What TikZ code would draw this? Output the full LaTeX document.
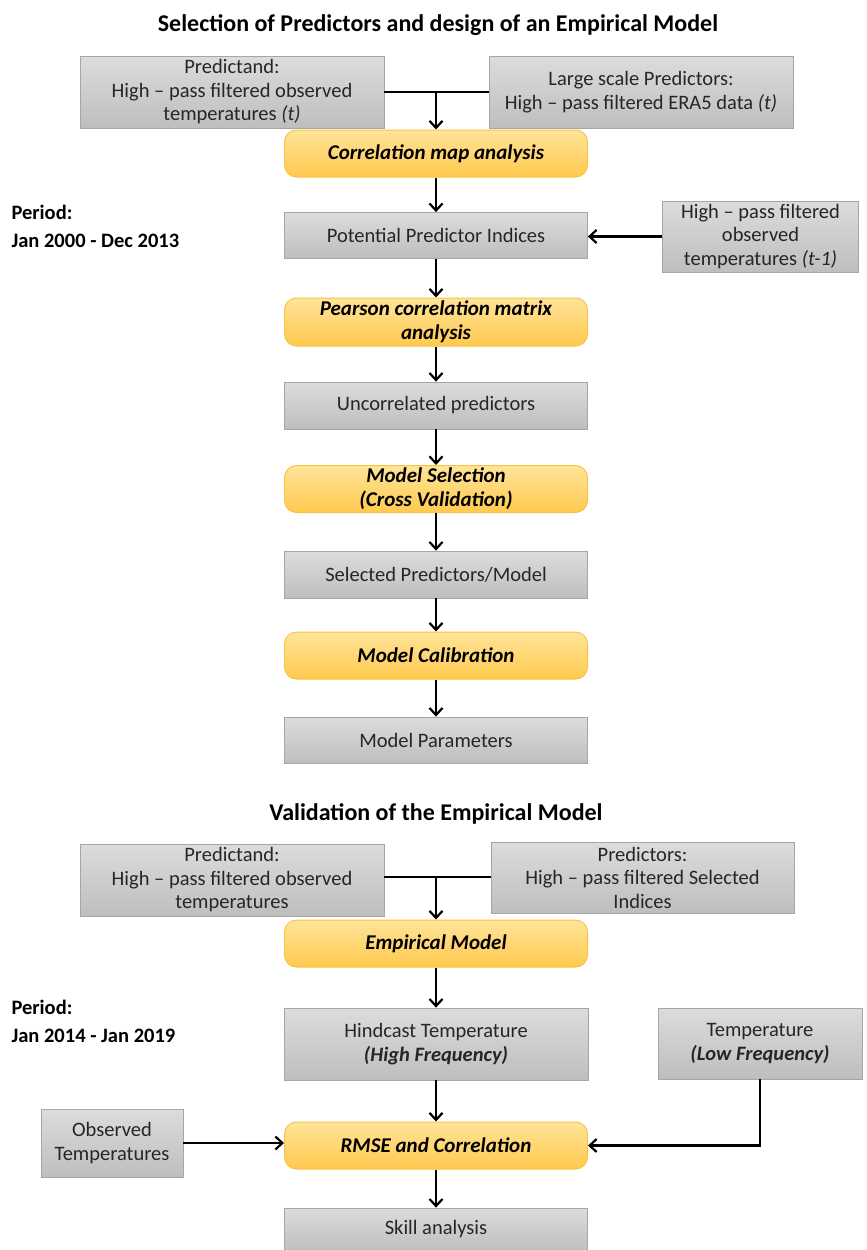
\documentclass[tikz,border=0pt]{standalone}
\usepackage{fontspec}
\setmainfont{Carlito}
\usetikzlibrary{arrows.meta}
\definecolor{grayedge}{HTML}{A6A6A6}
\definecolor{graytop}{HTML}{DCDCDC}
\definecolor{graybot}{HTML}{BEBEBE}
\definecolor{orangeedge}{HTML}{F7C444}
\definecolor{orangetop}{HTML}{FFE49A}
\definecolor{orangebot}{HTML}{FFC94E}
\definecolor{textdark}{HTML}{262626}

\tikzset{
  databox/.style={draw=grayedge,line width=0.8pt,top color=graytop,bottom color=graybot,
    text=textdark,align=center,inner sep=2pt,font=\fontsize{20.5}{23.5}\selectfont},
  stepbox/.style={draw=orangeedge,line width=1pt,rounded corners=12pt,top color=orangetop,
    bottom color=orangebot,align=center,inner sep=2pt,minimum width=303pt,
    font=\fontsize{21}{24}\selectfont\bfseries\itshape},
  conn/.style={line width=2.2pt,-{Straight Barb[length=7pt,width=13pt]}},
  joinline/.style={line width=2.8pt},
  headline/.style={font=\fontsize{24}{28}\selectfont\bfseries},
  period/.style={anchor=west,align=left,font=\fontsize{20.5}{28}\selectfont\bfseries}
}

\begin{document}
\begin{tikzpicture}[x=1pt,y=-1pt]
  \useasboundingbox (0,0) rectangle (867,1250);

  % calibration part
  \node[headline] (title1) at (438,25) {Selection of Predictors and design of an Empirical Model};
  \node[databox,minimum width=304pt,minimum height=72pt] (predA) at (232,92)
    {Predictand:\\High -- pass filtered observed\\temperatures \textit{(t)}};
  \node[databox,minimum width=304pt,minimum height=72pt] (predB) at (641,92)
    {Large scale Predictors:\\High -- pass filtered ERA5 data \textit{(t)}};
  \coordinate (j1) at (436,92);
  \node[stepbox,minimum height=47pt] (corr) at (436,153.5) {Correlation map analysis};
  \node[databox,minimum width=303pt,minimum height=46pt] (pot) at (436,235.5) {Potential Predictor Indices};
  \node[databox,minimum width=196pt,minimum height=71pt] (lagT) at (760.5,236.5)
    {High -- pass filtered\\observed\\temperatures \textit{(t-1)}};
  \node[period] (per1) at (8,226) {Period:\\Jan 2000 - Dec 2013};
  \node[stepbox,minimum height=48pt] (pear) at (436,322) {Pearson correlation matrix\\analysis};
  \node[databox,minimum width=303pt,minimum height=47pt] (unc) at (436,405.5) {Uncorrelated predictors};
  \node[stepbox,minimum height=47pt] (msel) at (436,489) {Model Selection\\(Cross Validation)};
  \node[databox,minimum width=303pt,minimum height=47pt] (spm) at (436,574.5) {Selected Predictors/Model};
  \node[stepbox,minimum height=47pt] (mcal) at (436,655.5) {Model Calibration};
  \node[databox,minimum width=303pt,minimum height=46pt] (mpar) at (436,740) {Model Parameters};

  % validation part
  \node[headline] (title2) at (436,814) {Validation of the Empirical Model};
  \node[databox,minimum width=304pt,minimum height=72pt] (predC) at (232,880)
    {Predictand:\\High -- pass filtered observed\\temperatures};
  \node[databox,minimum width=303pt,minimum height=71pt] (predD) at (642.5,877.5)
    {Predictors:\\High -- pass filtered Selected\\Indices};
  \coordinate (j2) at (436,877);
  \node[stepbox,minimum height=47pt] (emp) at (436,943.5) {Empirical Model};
  \node[period] (per2) at (8,1021) {Period:\\Jan 2014 - Jan 2019};
  \node[databox,minimum width=304pt,minimum height=72pt] (hind) at (436,1044)
    {Hindcast Temperature\\\textbf{\textit{(High Frequency)}}};
  \node[databox,minimum width=204pt,minimum height=71pt] (lowT) at (760,1043.5)
    {Temperature\\\textbf{\textit{(Low Frequency)}}};
  \node[databox,minimum width=142pt,minimum height=68pt] (obs) at (112,1143)
    {Observed\\Temperatures};
  \node[stepbox,minimum height=47pt] (rmse) at (436,1145.5) {RMSE and Correlation};
  \node[databox,minimum width=303pt,minimum height=43pt] (skill) at (436,1229.5) {Skill analysis};

  % connectors
  \draw[joinline] (predA.east) -- (predB.west);
  \draw[joinline] (predC.east |- j2) -- (predD.west |- j2);
  \draw[conn] (j1) -- (corr);
  \draw[conn] (j2) -- (emp);
  \foreach \a/\b in {corr/pot,pot/pear,pear/unc,unc/msel,msel/spm,spm/mcal,mcal/mpar,
                     emp/hind,hind/rmse,rmse/skill}
    \draw[conn] (\a) -- (\b);
  \draw[conn] (lagT.west) -- (lagT.west -| pot.east);
  \draw[conn] (obs.east) -- (obs.east -| rmse.west);
  \draw[conn] (lowT.south) |- (rmse.east);
\end{tikzpicture}
\end{document}
